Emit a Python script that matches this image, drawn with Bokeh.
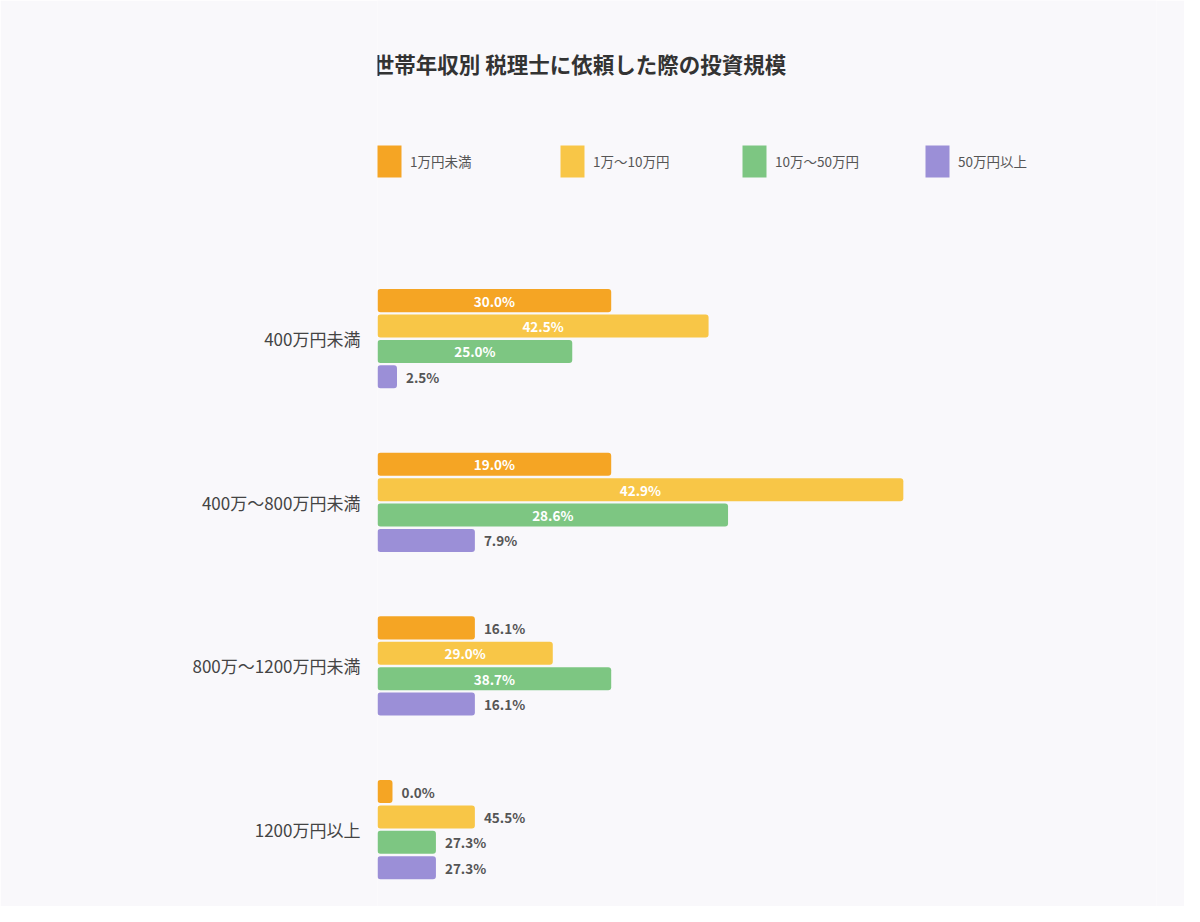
from bokeh.plotting import figure
from bokeh.models import Range1d, ColumnDataSource, Label, Legend, LegendItem, FixedTicker
from bokeh.core.properties import value
from bokeh.embed import file_html
from bokeh.resources import INLINE

# ---------------- data ----------------
title_text = "世帯年収別 税理士に依頼した際の投資規模"
categories = ["400万円未満", "400万〜800万円未満", "800万〜1200万円未満", "1200万円以上"]
series_names = ["1万円未満", "1万〜10万円", "10万〜50万円", "50万円以上"]

# respondent counts (bar length)
count_lt1 = [12, 12, 5, 0]
count_1_10 = [17, 27, 9, 5]
count_10_50 = [10, 18, 12, 3]
count_50up = [1, 5, 5, 3]

# percentage labels
pct_lt1 = [30.0, 19.0, 16.1, 0.0]
pct_1_10 = [42.5, 42.9, 29.0, 45.5]
pct_10_50 = [25.0, 28.6, 38.7, 27.3]
pct_50up = [2.5, 7.9, 16.1, 27.3]

counts = [count_lt1, count_1_10, count_10_50, count_50up]
pcts = [pct_lt1, pct_1_10, pct_10_50, pct_50up]

# ---------------- style ----------------
FONT = "Noto Sans CJK JP"
BG = "#f9f8fb"
colors = ["#f5a524", "#f8c647", "#7dc682", "#9b8fd7"]
offsets = [0.2328, 0.0776, -0.0776, -0.2328]
BAR_H = 0.1406
X_MAX = 40
FRAME_W = 779
PX_PER = FRAME_W / X_MAX
MIN_BAR = 0.77          # minimum visible bar length (count units)
INSIDE_PX = 120         # value label sits inside the bar when the bar is longer than this

n = len(categories)
ypos = [n - 1 - k for k in range(n)]       # first category at the top

p = figure(width=1184, height=906,
           y_range=Range1d(-0.470, 5.067),
           x_range=Range1d(0, X_MAX),
           x_axis_location=None,
           output_backend="svg", toolbar_location=None,
           min_border_left=377, min_border_right=1184 - 377 - FRAME_W,
           min_border_top=0, min_border_bottom=0,
           background_fill_color=BG, border_fill_color=BG,
           outline_line_color=None)

p.xgrid.visible = False
p.ygrid.visible = False
p.yaxis.ticker = FixedTicker(ticks=ypos)
p.yaxis.major_label_overrides = {ypos[k]: categories[k] for k in range(n)}
p.yaxis.axis_line_color = None
p.yaxis.major_tick_line_color = None
p.yaxis.minor_tick_line_color = None
p.yaxis.major_tick_out = 0
p.yaxis.major_tick_in = 0
p.yaxis.major_label_standoff = 17
p.yaxis.major_label_text_font = FONT
p.yaxis.major_label_text_font_size = "17px"
p.yaxis.major_label_text_color = "#444444"

renderers = []
for i in range(4):
    disp = [max(c, MIN_BAR) for c in counts[i]]
    labels = ["%.1f%%" % v for v in pcts[i]]
    yb = [ypos[k] + offsets[i] for k in range(n)]
    src = ColumnDataSource(dict(y=yb, disp=disp))
    r = p.hbar(y="y", left=0, right="disp",
               height=BAR_H, fill_color=colors[i], line_color=None,
               border_radius=3, source=src)
    renderers.append(r)

    ins = [k for k in range(n) if disp[k] * PX_PER > INSIDE_PX]
    outs = [k for k in range(n) if disp[k] * PX_PER <= INSIDE_PX]
    src_in = ColumnDataSource(dict(y=[yb[k] for k in ins],
                                   x=[disp[k] / 2 for k in ins],
                                   lab=[labels[k] for k in ins]))
    src_out = ColumnDataSource(dict(y=[yb[k] for k in outs],
                                    x=[disp[k] for k in outs],
                                    lab=[labels[k] for k in outs]))
    p.text(x="x", y="y", text="lab", source=src_in,
           text_align="center", text_baseline="middle", text_color="white",
           text_font=value(FONT), text_font_style="bold", text_font_size="13.5px")
    p.text(x="x", y="y", text="lab", source=src_out,
           x_offset=9, text_align="left", text_baseline="middle", text_color="#555555",
           text_font=value(FONT), text_font_style="bold", text_font_size="13.5px")

# legends: one per series, evenly spaced across the top
leg_x = [-3, 180, 362, 545]
leg_y = 725
for i in range(4):
    leg = Legend(items=[LegendItem(label=series_names[i], renderers=[renderers[i]])],
                 location=(leg_x[i], leg_y), orientation="horizontal",
                 glyph_width=30, glyph_height=40, label_standoff=6,
                 padding=0, margin=0, border_line_color=None,
                 background_fill_alpha=0,
                 label_text_font=FONT, label_text_font_size="13.5px",
                 label_text_color="#555555")
    p.add_layout(leg)

p.add_layout(Label(x=202, y=843, x_units="screen", y_units="screen", text=title_text,
                   text_align="center", text_baseline="middle", text_font=FONT,
                   text_font_size="21.5px", text_font_style="bold", text_color="#333333"))

open("out.html", "w").write(file_html(p, INLINE))
